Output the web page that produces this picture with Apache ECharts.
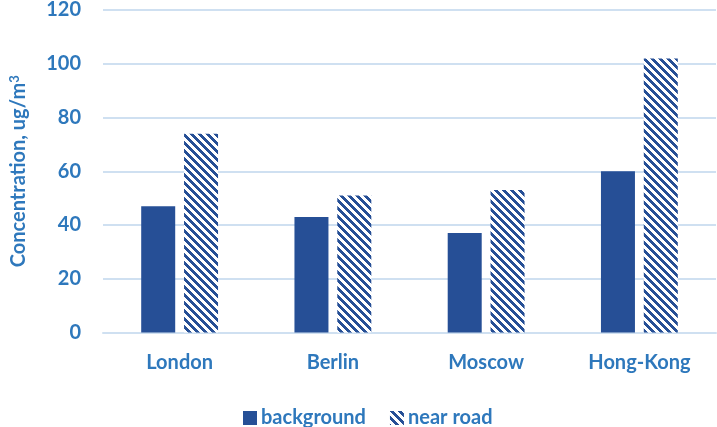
<!DOCTYPE html>
<html>
<head>
<meta charset="utf-8">
<script src="https://cdn.jsdelivr.net/npm/echarts@6/dist/echarts.min.js"></script>
<style>
  html, body { margin: 0; padding: 0; background: #ffffff; }
  #chart { width: 717px; height: 427px; }
</style>
</head>
<body>
<div id="chart"></div>
<script>
const cities = ['London', 'Berlin', 'Moscow', 'Hong-Kong'];
const background = [47, 43, 37, 60];
const nearRoad = [74, 51, 53, 102];
const yTicks = [0, 20, 40, 60, 80, 100, 120];

const DARK = '#264f96';
const TEXT = '#2e78bc';
const GRID = '#cfe0f1';
const FONT = 'Lato, sans-serif';

// Wide downward-diagonal hatch, built pixel by pixel on an 8x8 tile
function hatchTile() {
  const c = document.createElement('canvas');
  c.width = 8; c.height = 8;
  const ctx = c.getContext('2d');
  ctx.fillStyle = '#ffffff';
  ctx.fillRect(0, 0, 8, 8);
  ctx.fillStyle = DARK;
  for (let y = 0; y < 8; y++) {
    for (let x = 0; x < 8; x++) {
      if (((x - y) % 8 + 8) % 8 < 4) ctx.fillRect(x, y, 1, 1);
    }
  }
  return c;
}
const hatch = { image: hatchTile(), repeat: 'repeat' };

const labelStyle = { color: TEXT, fontFamily: FONT, fontSize: 20, fontWeight: 'bold' };

const chart = echarts.init(document.getElementById('chart'), null, { renderer: 'canvas' });
chart.setOption({
  animation: false,
  grid: { left: 102, right: 1, top: 10, bottom: 94.5 },
  legend: {
    top: 403,
    left: 238,
    icon: 'rect',
    itemWidth: 14,
    itemHeight: 14,
    itemGap: 24,
    data: ['background', 'near road'],
    textStyle: Object.assign({}, labelStyle, { padding: [0, 0, 0, -1] })
  },
  xAxis: {
    type: 'category',
    data: cities,
    axisLine: { show: true, lineStyle: { color: GRID, width: 2 } },
    axisTick: { show: false },
    axisLabel: Object.assign({ margin: 20 }, labelStyle)
  },
  yAxis: {
    type: 'value',
    min: yTicks[0],
    max: yTicks[yTicks.length - 1],
    interval: 20,
    axisLine: { show: false },
    axisTick: { show: false },
    splitLine: { lineStyle: { color: GRID, width: 2 } },
    axisLabel: Object.assign({ margin: 22 }, labelStyle),
    name: '{a|Concentration, ug/m}{s|3}',
    nameLocation: 'middle',
    nameGap: 74,
    nameRotate: 90,
    nameTextStyle: {
      rich: {
        a: labelStyle,
        s: { color: TEXT, fontFamily: FONT, fontSize: 13, fontWeight: 'bold', verticalAlign: 'top', padding: [0, 0, 8, 0] }
      }
    }
  },
  series: [
    {
      name: 'background',
      type: 'bar',
      data: background,
      barWidth: 34,
      barGap: '26%',
      itemStyle: { color: DARK }
    },
    {
      name: 'near road',
      type: 'bar',
      data: nearRoad,
      barWidth: 34,
      itemStyle: { color: hatch }
    }
  ]
});
</script>
</body>
</html>
